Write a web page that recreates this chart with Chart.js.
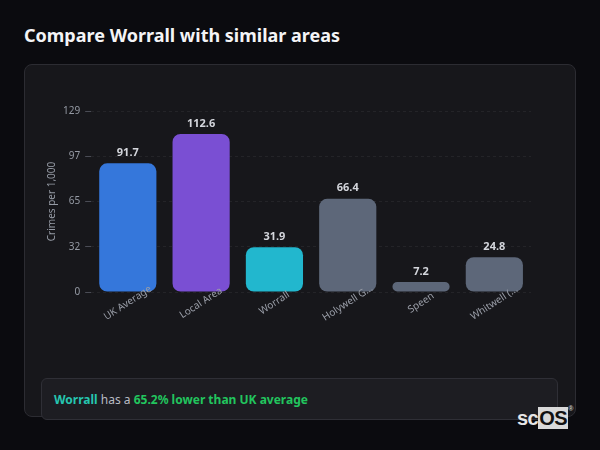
<!DOCTYPE html>
<html>
<head>
<meta charset="utf-8">
<script src="https://cdn.jsdelivr.net/npm/chart.js@4.4.1/dist/chart.umd.min.js"></script>
<style>
  html, body { margin: 0; padding: 0; }
  body { width: 600px; height: 450px; background: #0b0b0f; position: relative; overflow: hidden; font-family: "Noto Sans", sans-serif; }
  h2 { position: absolute; left: 24px; top: 23px; margin: 0; font-size: 18px; font-weight: 700; color: #f4f4f6; }
  .card { position: absolute; left: 24px; top: 64px; width: 550px; height: 351px; background: #17171b; border: 1px solid #2c2c32; border-radius: 8px; }
  .wrap { position: absolute; left: 46px; top: 100px; width: 500px; height: 240px; }
  .note { position: absolute; left: 41px; top: 378px; width: 515px; height: 40px; background: #1d1d22; border: 1px solid #2f2f36; border-radius: 6px; }
  .note p { margin: 0; position: absolute; left: 12px; top: 12px; font-size: 12px; color: #b9bcc4; white-space: nowrap; }
  .note .area { color: #26c6b0; font-weight: 700; }
  .note .diff { color: #22c55e; font-weight: 700; }
  .logo { position: absolute; left: 517px; top: 407px; font-family: "Liberation Sans", Arial, sans-serif; font-size: 20px; font-weight: 700; color: #e6e6e6; letter-spacing: -0.5px; }
  .logo .os { background: #d9d9d9; color: #111; padding: 0 1px; }
  .logo sup { font-size: 7px; color: #ccc; vertical-align: top; position: relative; top: -2px; }
</style>
</head>
<body>
<h2>Compare Worrall with similar areas</h2>
<div class="card"></div>
<div class="wrap"><canvas id="crimeChart"></canvas></div>
<div class="note"><p><span class="area">Worrall</span> has a <span class="diff">65.2% lower than UK average</span></p></div>
<div class="logo">sc<span class="os">OS</span><sup>®</sup></div>
<script>
const areas = ['UK Average', 'Local Area', 'Worrall', 'Holywell G...', 'Speen', 'Whitwell (...'];
const crimeRates = [91.7, 112.6, 31.9, 66.4, 7.2, 24.8];
const barColours = ['#3577db', '#7a4fd3', '#22b7ce', '#5d6779', '#5d6779', '#5d6779'];
const yMax = 129;

// number above each bar + centred, slanted category names under the axis
const barText = {
    id: 'barText',
    afterDatasetsDraw(chart) {
        const ctx = chart.ctx;
        const meta = chart.getDatasetMeta(0);
        const xScale = chart.scales.x;
        const bottom = chart.chartArea.bottom;
        ctx.save();
        ctx.font = 'bold 11px "Noto Sans"';
        ctx.fillStyle = '#d4d6dc';
        ctx.textAlign = 'center';
        ctx.textBaseline = 'bottom';
        meta.data.forEach((bar, i) => {
            ctx.fillText(crimeRates[i].toFixed(1), bar.x, bar.y - 5);
        });
        ctx.font = '10px "Noto Sans"';
        ctx.fillStyle = '#9a9ea8';
        ctx.textBaseline = 'middle';
        areas.forEach((name, i) => {
            ctx.save();
            ctx.translate(xScale.getPixelForTick(i), bottom + 11);
            ctx.rotate(-33 * Math.PI / 180);
            ctx.fillText(name, 0, 0);
            ctx.restore();
        });
        ctx.restore();
    }
};

document.addEventListener("DOMContentLoaded", () => {
    const ctx = document.getElementById('crimeChart').getContext('2d');
    new Chart(ctx, {
        type: 'bar',
        data: {
            labels: areas,
            datasets: [{
                data: crimeRates,
                backgroundColor: barColours,
                borderRadius: 8,
                borderSkipped: false,
                barPercentage: 0.78,
                categoryPercentage: 1
            }]
        },
        options: {
            responsive: true,
            maintainAspectRatio: false,
            animation: false,
            layout: { padding: { left: 0, right: 15, top: 0, bottom: 40 } },
            plugins: {
                legend: { display: false },
                tooltip: { enabled: false }
            },
            scales: {
                x: {
                    grid: { display: false },
                    border: { display: false },
                    ticks: { display: false }
                },
                y: {
                    min: 0,
                    max: yMax,
                    border: { display: false, dash: [3, 3] },
                    grid: {
                        color: 'rgba(255,255,255,0.06)',
                        tickColor: '#4a4c55',
                        tickLength: 6,
                        tickBorderDash: [],
                        lineWidth: 1
                    },
                    ticks: {
                        stepSize: yMax / 4,
                        color: '#959aa4',
                        font: { family: 'Noto Sans', size: 10 },
                        padding: 5,
                        callback: v => Math.round(v)
                    },
                    title: {
                        display: true,
                        text: 'Crimes per 1,000',
                        color: '#959aa4',
                        font: { family: 'Noto Sans', size: 10 },
                        padding: { top: 0, bottom: 0 }
                    }
                }
            }
        },
        plugins: [barText]
    });
});
</script>
</body>
</html>
